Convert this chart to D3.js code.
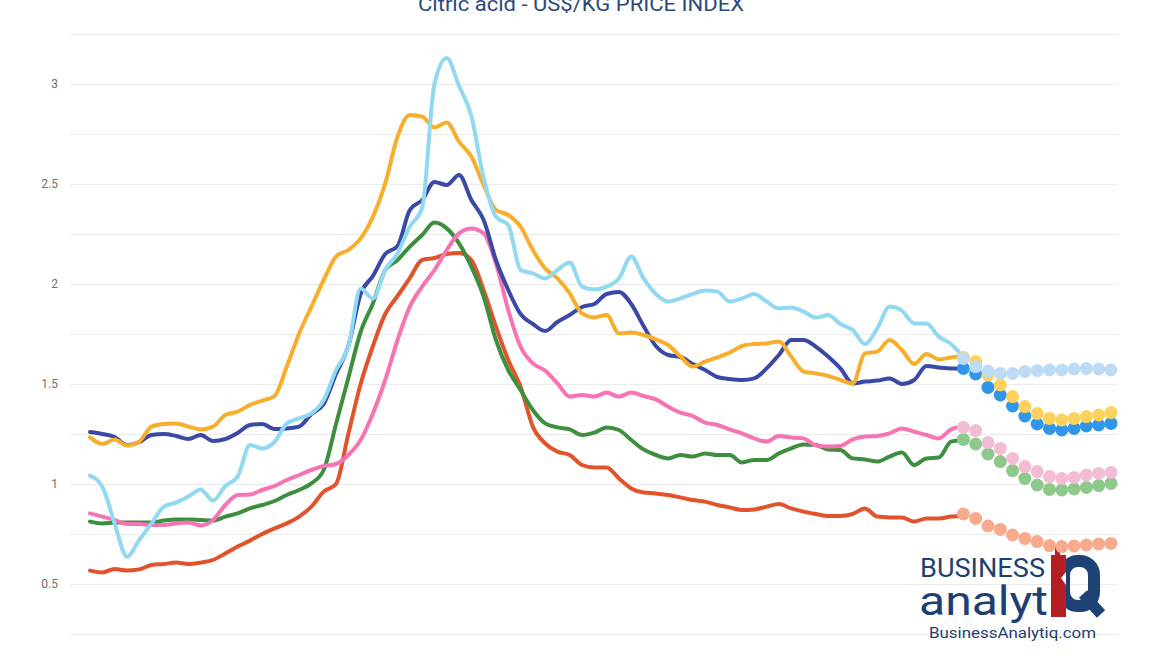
<!DOCTYPE html>
<html>
<head>
<meta charset="utf-8">
<script src="https://d3js.org/d3.v7.min.js"></script>
<style>
  body { margin: 0; background: #fff; }
  svg { display: block; font-family: Roboto, "Noto Sans", sans-serif; }
</style>
</head>
<body>
<div id="chart"></div>
<script>
// Citric acid price index, monthly, US$/kg
const title = "Citric acid - US$/KG PRICE INDEX";

const navy = [1.26, 1.25, 1.235, 1.195, 1.21, 1.245, 1.25, 1.24, 1.225, 1.245, 1.215, 1.225, 1.255, 1.295, 1.30, 1.275,
  1.278, 1.287, 1.35, 1.40, 1.55, 1.69, 1.95, 2.04, 2.15, 2.19, 2.37, 2.42, 2.51, 2.495, 2.545, 2.42,
  2.32, 2.12, 1.97, 1.85, 1.80, 1.765, 1.81, 1.845, 1.885, 1.90, 1.95, 1.96, 1.90, 1.79, 1.69, 1.645,
  1.635, 1.60, 1.57, 1.535, 1.525, 1.52, 1.528, 1.578, 1.645, 1.72, 1.72, 1.687, 1.637, 1.578, 1.503, 1.512,
  1.517, 1.528, 1.50, 1.52, 1.59, 1.583, 1.578, 1.578];
const orange = [1.233, 1.20, 1.223, 1.192, 1.212, 1.287, 1.30, 1.303, 1.287, 1.273, 1.287, 1.345, 1.362, 1.395, 1.417, 1.44,
  1.587, 1.753, 1.887, 2.02, 2.137, 2.17, 2.228, 2.337, 2.503, 2.737, 2.845, 2.837, 2.783, 2.807, 2.712, 2.637,
  2.495, 2.37, 2.345, 2.287, 2.17, 2.078, 2.028, 1.953, 1.853, 1.833, 1.845, 1.753, 1.757, 1.745, 1.723, 1.695,
  1.637, 1.587, 1.612, 1.633, 1.657, 1.69, 1.70, 1.703, 1.712, 1.637, 1.562, 1.553, 1.54, 1.52, 1.503, 1.653,
  1.662, 1.72, 1.67, 1.60, 1.65, 1.623, 1.633, 1.637];
const lightBlue = [1.042, 0.987, 0.803, 0.637, 0.72, 0.803, 0.887, 0.907, 0.937, 0.973, 0.917, 0.99, 1.037, 1.195, 1.178, 1.21,
  1.303, 1.328, 1.353, 1.42, 1.57, 1.687, 1.978, 1.928, 2.07, 2.153, 2.287, 2.38, 3.0, 3.13, 2.99, 2.84,
  2.53, 2.337, 2.295, 2.07, 2.053, 2.028, 2.07, 2.107, 1.987, 1.973, 1.987, 2.028, 2.137, 2.028, 1.95, 1.912,
  1.928, 1.95, 1.967, 1.962, 1.912, 1.928, 1.95, 1.912, 1.878, 1.882, 1.862, 1.832, 1.845, 1.80, 1.77, 1.70,
  1.778, 1.887, 1.867, 1.803, 1.803, 1.737, 1.70, 1.633];
const pink = [0.853, 0.837, 0.82, 0.80, 0.80, 0.795, 0.795, 0.803, 0.807, 0.793, 0.82, 0.895, 0.945, 0.948, 0.97, 0.99,
  1.02, 1.045, 1.07, 1.09, 1.10, 1.145, 1.22, 1.353, 1.52, 1.72, 1.887, 1.987, 2.07, 2.17, 2.253, 2.278,
  2.253, 2.103, 1.87, 1.687, 1.603, 1.567, 1.503, 1.437, 1.445, 1.437, 1.457, 1.437, 1.457, 1.44, 1.423, 1.387,
  1.357, 1.34, 1.307, 1.295, 1.273, 1.253, 1.228, 1.212, 1.24, 1.233, 1.228, 1.193, 1.187, 1.19, 1.223, 1.237,
  1.24, 1.253, 1.278, 1.262, 1.245, 1.228, 1.273, 1.287];
const green = [0.812, 0.803, 0.807, 0.807, 0.807, 0.807, 0.817, 0.823, 0.823, 0.82, 0.817, 0.837, 0.853, 0.878, 0.895, 0.915,
  0.945, 0.97, 1.003, 1.07, 1.30, 1.53, 1.76, 1.903, 2.07, 2.12, 2.187, 2.245, 2.307, 2.278, 2.203, 2.087,
  1.937, 1.72, 1.57, 1.47, 1.37, 1.303, 1.283, 1.273, 1.245, 1.257, 1.283, 1.27, 1.22, 1.173, 1.145, 1.128,
  1.145, 1.137, 1.153, 1.145, 1.145, 1.108, 1.12, 1.12, 1.153, 1.178, 1.198, 1.195, 1.173, 1.17, 1.128, 1.123,
  1.112, 1.137, 1.157, 1.095, 1.128, 1.132, 1.212, 1.22];
const red = [0.567, 0.558, 0.575, 0.567, 0.573, 0.595, 0.60, 0.607, 0.60, 0.607, 0.62, 0.653, 0.687, 0.717, 0.75, 0.778,
  0.803, 0.837, 0.887, 0.962, 1.00, 1.25, 1.50, 1.69, 1.85, 1.94, 2.03, 2.12, 2.13, 2.15, 2.155, 2.12,
  1.97, 1.787, 1.62, 1.487, 1.287, 1.203, 1.162, 1.145, 1.095, 1.083, 1.083, 1.028, 0.978, 0.957, 0.953, 0.945,
  0.933, 0.92, 0.912, 0.895, 0.883, 0.87, 0.873, 0.887, 0.90, 0.878, 0.862, 0.85, 0.84, 0.84, 0.85, 0.878,
  0.837, 0.833, 0.833, 0.812, 0.828, 0.828, 0.837, 0.84];

// forecast, starts on the last actual month
const navyForecast = [1.578, 1.55, 1.483, 1.445, 1.39, 1.34, 1.30, 1.278, 1.27, 1.278, 1.29, 1.295, 1.303];
const orangeForecast = [1.633, 1.612, 1.545, 1.495, 1.437, 1.387, 1.353, 1.328, 1.32, 1.328, 1.337, 1.345, 1.357];
const lightBlueForecast = [1.628, 1.587, 1.565, 1.553, 1.553, 1.562, 1.567, 1.57, 1.57, 1.575, 1.578, 1.575, 1.57];
const pinkForecast = [1.283, 1.267, 1.207, 1.178, 1.128, 1.087, 1.062, 1.037, 1.028, 1.033, 1.045, 1.053, 1.058];
const greenForecast = [1.223, 1.20, 1.15, 1.112, 1.067, 1.028, 0.995, 0.973, 0.97, 0.975, 0.983, 0.992, 1.003];
const redForecast = [0.85, 0.828, 0.79, 0.773, 0.745, 0.728, 0.712, 0.692, 0.687, 0.69, 0.695, 0.70, 0.703];

const gridTicks = [0.25, 0.5, 0.75, 1, 1.25, 1.5, 1.75, 2, 2.25, 2.5, 2.75, 3, 3.25];
const labelTicks = ["0.5", "1", "1.5", "2", "2.5", "3"];

const W = 1170, H = 658;
const plot = { left: 70, right: 1118, top: 34, bottom: 634 };

const svg = d3.select("#chart").append("svg")
    .attr("width", W)
    .attr("height", H);

const nActual = navy.length;
const nTotal = nActual - 1 + navyForecast.length;

const x = d3.scaleLinear()
    .domain([0, nTotal - 1])
    .range([90, 1111]);

const y = d3.scaleLinear()
    .domain([0.25, 3.25])
    .range([plot.bottom, plot.top]);

// title (cut at the top edge like the original)
svg.append("text")
    .attr("x", 581)
    .attr("y", 11)
    .attr("text-anchor", "middle")
    .attr("fill", "#2c4a7c")
    .attr("textLength", 326)
    .attr("lengthAdjust", "spacingAndGlyphs")
    .style("font-size", "21px")
    .text(title);

// grid + y labels
const yAxis = svg.append("g")
    .attr("transform", `translate(${plot.left},0)`)
    .call(d3.axisLeft(y)
        .tickValues(gridTicks)
        .tickSize(-(plot.right - plot.left))
        .tickPadding(12)
        .tickFormat(d => labelTicks.includes(String(d)) ? String(d) : ""));
yAxis.select(".domain").remove();
yAxis.selectAll(".tick line").attr("stroke", "#ebebeb").attr("stroke-width", 1.2);
yAxis.selectAll(".tick text")
    .attr("fill", "#6f6f6f")
    .style("font-size", "12px")
    .style("font-family", "Roboto, sans-serif");

// logo (drawn under the data, like the watermark in the picture)
const logo = svg.append("g").attr("fill", "#1d3f72");
logo.append("text")
    .attr("x", 920).attr("y", 577)
    .attr("textLength", 125).attr("lengthAdjust", "spacingAndGlyphs")
    .style("font-size", "25px")
    .text("BUSINESS");
logo.append("text")
    .attr("x", 919).attr("y", 615)
    .attr("textLength", 129).attr("lengthAdjust", "spacingAndGlyphs")
    .style("font-size", "40px")
    .text("analyt");
logo.append("rect")
    .attr("x", 1064).attr("y", 561).attr("width", 30).attr("height", 45).attr("rx", 14)
    .attr("fill", "none").attr("stroke", "#1d4275").attr("stroke-width", 12);
logo.append("line")
    .attr("x1", 1083).attr("y1", 594).attr("x2", 1101).attr("y2", 614)
    .attr("stroke", "#1d4275").attr("stroke-width", 11);
logo.append("rect")
    .attr("x", 1051).attr("y", 555).attr("width", 15).attr("height", 62)
    .attr("fill", "#b51f24");
logo.append("path")
    .attr("d", "M1066,572 L1061,578 L1066,585 Z")
    .attr("fill", "#fff");
logo.append("rect")
    .attr("x", 1055).attr("y", 545).attr("width", 5).attr("height", 11)
    .attr("fill", "#b51f24");
logo.append("text")
    .attr("x", 929).attr("y", 638)
    .attr("textLength", 167).attr("lengthAdjust", "spacingAndGlyphs")
    .style("font-size", "15.5px")
    .text("BusinessAnalytiq.com");

// solid lines
const series = [
    { values: red, color: "#e2532b", forecast: redForecast, fcolor: "#f8aa8c" },
    { values: green, color: "#3d8f3f", forecast: greenForecast, fcolor: "#8cc98b" },
    { values: pink, color: "#f673b4", forecast: pinkForecast, fcolor: "#f2bdd4" },
    { values: navy, color: "#3a48a6", forecast: navyForecast, fcolor: "#2f96ea" },
    { values: orange, color: "#f9ae2b", forecast: orangeForecast, fcolor: "#fdd25c" },
    { values: lightBlue, color: "#90d9f1", forecast: lightBlueForecast, fcolor: "#bcdcf6" }
];

const line = d3.line()
    .x((d, i) => x(i))
    .y(d => y(d))
    .curve(d3.curveMonotoneX);

svg.append("g")
    .selectAll("path")
    .data(series)
    .join("path")
    .attr("fill", "none")
    .attr("stroke", d => d.color)
    .attr("stroke-width", 4)
    .attr("stroke-linejoin", "round")
    .attr("stroke-linecap", "round")
    .attr("d", d => line(d.values));

// forecast dots
const dots = svg.append("g");
series.forEach(s => {
    dots.append("g")
        .selectAll("circle")
        .data(s.forecast)
        .join("circle")
        .attr("cx", (d, i) => x(nActual - 1 + i))
        .attr("cy", d => y(d))
        .attr("r", 6.5)
        .attr("fill", s.fcolor);
});
</script>
</body>
</html>
